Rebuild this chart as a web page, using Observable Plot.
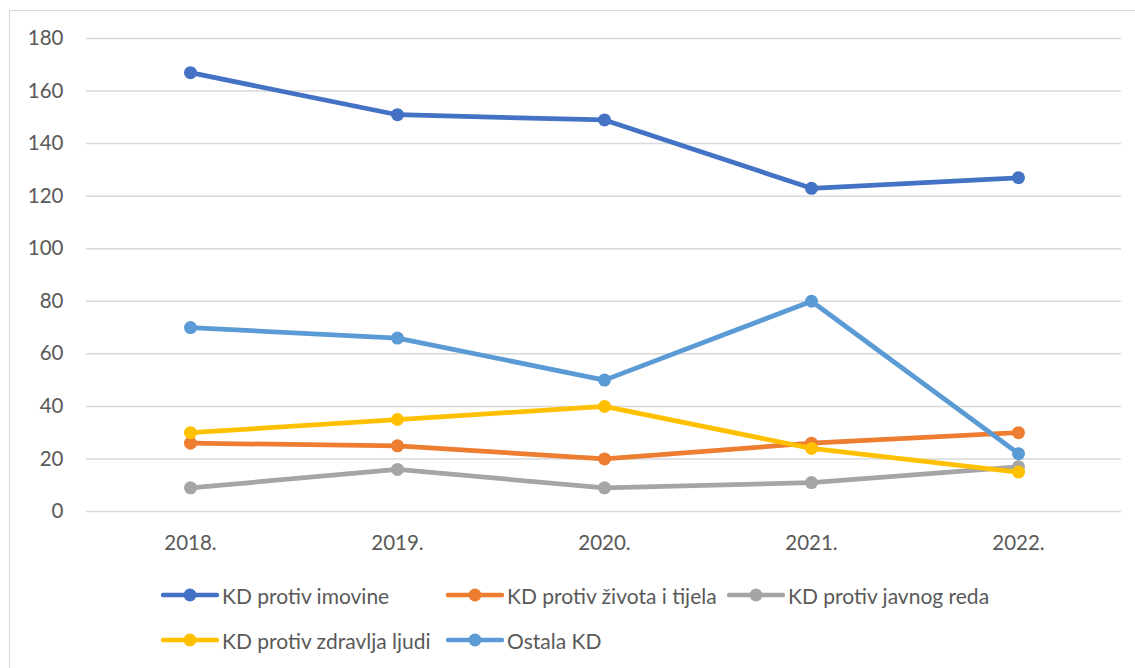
<!DOCTYPE html>
<html>
<head>
<meta charset="utf-8">
<script src="https://cdn.jsdelivr.net/npm/d3@7"></script>
<script src="https://cdn.jsdelivr.net/npm/@observablehq/plot@0.6"></script>
<style>
  html, body { margin: 0; padding: 0; background: #fff; }
  #wrap { position: relative; width: 1135px; height: 668px; overflow: hidden; font-family: Lato, "Open Sans", sans-serif; color: #595959; }
  #frame { position: absolute; left: 9px; top: 10px; width: 1200px; height: 700px; border: 1.5px solid #d9d9d9; box-sizing: border-box; }
  #chart { position: absolute; left: 0; top: 0; }
  .leg { position: absolute; display: flex; align-items: center; font-size: 21px; white-space: nowrap; }
  .leg svg { display: block; margin-right: 3px; }
</style>
</head>
<body>
<div id="wrap">
  <div id="frame"></div>
  <div id="chart"></div>
  <div id="legend"></div>
</div>
<script>
const years = ["2018.", "2019.", "2020.", "2021.", "2022."];
const seriesNames = ["KD protiv imovine", "KD protiv života i tijela", "KD protiv javnog reda", "KD protiv zdravlja ljudi", "Ostala KD"];
const imovine = [167, 151, 149, 123, 127];
const zivota = [26, 25, 20, 26, 30];
const javnogReda = [9, 16, 9, 11, 17];
const zdravlja = [30, 35, 40, 24, 15];
const ostala = [70, 66, 50, 80, 22];
const colors = ["#4472C4", "#ED7D31", "#A5A5A5", "#FFC000", "#5B9BD5"];
const yTicks = [0, 20, 40, 60, 80, 100, 120, 140, 160, 180];

const allValues = [imovine, zivota, javnogReda, zdravlja, ostala];
const data = [];
seriesNames.forEach((s, i) => years.forEach((y, j) => data.push({series: s, year: y, value: allValues[i][j]})));

const marks = [
  Plot.gridY(yTicks, {stroke: "#d9d9d9", strokeOpacity: 1, strokeWidth: 1.5}),
  Plot.axisY(yTicks, {tickSize: 0, tickPadding: 23, fontSize: 20.5, label: null}),
  Plot.axisX({tickSize: 0, tickPadding: 24, fontSize: 20.5, label: null})
];
seriesNames.forEach((s) => {
  const d = data.filter(r => r.series === s);
  marks.push(Plot.line(d, {x: "year", y: "value", stroke: "series", strokeWidth: 4.75, strokeLinejoin: "round", strokeLinecap: "round"}));
  marks.push(Plot.dot(d, {x: "year", y: "value", fill: "series", r: 6.5}));
});

const chart = Plot.plot({
  width: 1135,
  height: 560,
  marginLeft: 86,
  marginRight: 14,
  marginTop: 38,
  marginBottom: 49,
  style: {fontFamily: "Lato, 'Open Sans', sans-serif", color: "#595959", background: "transparent", overflow: "visible"},
  x: {type: "point", domain: years, padding: 0.5, label: null},
  y: {domain: [0, 180], label: null},
  color: {domain: seriesNames, range: colors},
  marks
});
document.getElementById("chart").appendChild(chart);

// legend
const legPos = [[161, 595], [446, 595], [727, 595], [161, 640], [446, 640]];
const legend = document.getElementById("legend");
seriesNames.forEach((s, i) => {
  const item = document.createElement("div");
  item.className = "leg";
  item.style.left = legPos[i][0] + "px";
  item.style.top = (legPos[i][1] - 14) + "px";
  item.style.height = "28px";
  const ns = "http://www.w3.org/2000/svg";
  const svg = document.createElementNS(ns, "svg");
  svg.setAttribute("width", 58); svg.setAttribute("height", 16);
  const ln = document.createElementNS(ns, "line");
  ln.setAttribute("x1", 2); ln.setAttribute("x2", 56); ln.setAttribute("y1", 8); ln.setAttribute("y2", 8);
  ln.setAttribute("stroke", colors[i]); ln.setAttribute("stroke-width", 4.5); ln.setAttribute("stroke-linecap", "round");
  const c = document.createElementNS(ns, "circle");
  c.setAttribute("cx", 29); c.setAttribute("cy", 8); c.setAttribute("r", 6.5); c.setAttribute("fill", colors[i]);
  svg.appendChild(ln); svg.appendChild(c);
  item.appendChild(svg);
  const t = document.createElement("span");
  t.textContent = s;
  item.appendChild(t);
  legend.appendChild(item);
});
</script>
</body>
</html>
